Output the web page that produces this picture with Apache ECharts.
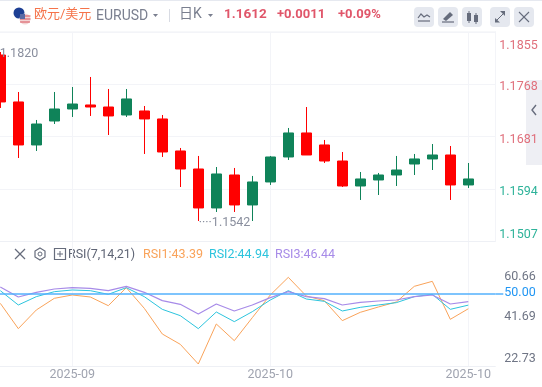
<!DOCTYPE html>
<html><head><meta charset="utf-8">
<style>html,body{margin:0;padding:0;background:#fff}#c{width:542px;height:387px}</style>
<script src="https://cdn.jsdelivr.net/npm/echarts@6/dist/echarts.min.js"></script></head>
<body><div id="c"></div><script>
const categories=['','','','','2025-09','','','','','','','','','','','2025-10','','','','','','','','','','','2025-10',''];
const opens =[1.17385,1.16669,1.17018,1.17268,1.17351,1.17301,1.17152,1.17435,1.17102,1.16552,1.16269,1.1562,1.16186,1.1567,1.16053,1.16469,1.16869,1.16502,1.16402,1.15986,1.16103,1.16169,1.16252,1.16436,1.16502,1.16003,1.16103];
const closes=[1.18167,1.17385,1.16669,1.17068,1.17268,1.17335,1.17301,1.17168,1.17235,1.17102,1.16569,1.16269,1.1562,1.16169,1.1567,1.16053,1.16469,1.16869,1.16669,1.16402,1.15986,1.16086,1.16169,1.16352,1.16436,1.16502,1.16003];
const lows  =[1.17285,1.16452,1.16569,1.17018,1.17135,1.17152,1.16835,1.17135,1.16519,1.16469,1.15969,1.15403,1.15553,1.15553,1.15403,1.16003,1.16419,1.16502,1.16369,1.15969,1.15753,1.15836,1.15986,1.16169,1.16252,1.15753,1.15953];
const highs =[1.18217,1.17551,1.17085,1.17551,1.17634,1.17801,1.17601,1.17601,1.17318,1.17168,1.16619,1.16486,1.16302,1.16286,1.16153,1.16486,1.16952,1.17301,1.16752,1.16552,1.16219,1.16203,1.16486,1.16519,1.16685,1.16652,1.16369];
const rsi1=[45.71,34.86,42.86,47.86,49.29,48.43,44.71,52.43,43.57,32.57,28.14,19.71,36.86,29.71,39.57,49.29,56.86,48.86,46.86,38.29,41.86,44.14,46.29,53.0,55.14,38.86,43.39];
const rsi2=[51.14,45.0,48.57,50.71,51.43,51.14,49.57,52.43,48.57,43.14,40.43,34.86,42.0,37.86,42.14,47.14,51.14,47.57,46.57,42.43,44.0,45.0,46.0,48.57,49.57,43.14,44.94];
const rsi3=[52.71,48.43,50.43,51.86,52.43,52.14,51.14,53.0,50.43,46.86,45.29,41.14,45.43,42.43,45.0,48.14,50.71,48.57,47.71,45.0,46.14,46.71,47.14,48.57,49.29,45.43,46.44];
const priceTicks=[1.1507,1.1594,1.1681,1.1768,1.1855];
const rsiTicks=[22.73,41.69,50,60.66];
const FONT='Roboto, "Noto Sans CJK SC", sans-serif';
const GRID='#f3f4f8',RED='#ff0000',GREEN='#0f8359',TXT='#6f7585';
const candles=opens.map((o,i)=>[o,closes[i],lows[i],highs[i]]);
const hasLabel=(i,v)=>v!=='';
const t=(x,y,text,fill,size,extra)=>({type:'text',x,y,silent:true,style:Object.assign({text,fill,font:(extra&&extra.weight||'normal')+' '+size+'px '+FONT,textVerticalAlign:'middle',textBaseline:'middle'},extra&&extra.style||{})});
const ln=(x1,y1,x2,y2,c,w)=>({type:'line',shape:{x1,y1,x2,y2},silent:true,style:{stroke:c,lineWidth:w||1,fill:null}});
const poly=(pts,c)=>({type:'polygon',shape:{points:pts},silent:true,style:{fill:c}});
const pl=(pts,c,w)=>({type:'polyline',shape:{points:pts},silent:true,style:{stroke:c,lineWidth:w||1,fill:null}});
const btn=x=>({type:'rect',shape:{x,y:7,width:20,height:20,r:4},silent:true,style:{fill:'#e5e8ef'}});
const IC='#666c7c';
const graphics=[
 {type:'rect',shape:{x:0,y:0,width:542,height:1},silent:true,style:{fill:'#e6e9f0'}},
 {type:'rect',shape:{x:0,y:31,width:496,height:1},silent:true,style:{fill:'#f7f8fa'}},
 {type:'circle',shape:{cx:19,cy:13,r:5.5},silent:true,style:{fill:'#1d3f94'}},
 {type:'circle',shape:{cx:25,cy:19,r:5.5},silent:true,style:{fill:'#f2d5d5'}},
 ln(20,16,30.5,16,'#d9505a',1),ln(20,19,30.5,19,'#d9505a',1),ln(20,22,30,22,'#d9505a',1),
 {type:'rect',shape:{x:20,y:14,width:5,height:5},silent:true,style:{fill:'#5a6aa5'}},
 t(34,14.5,'欧元/美元','#f5734a',13),
 t(96,16,'EURUSD','#7a7f8f',14),
 poly([[153,14],[158,14],[155.5,17]],'#7a7f8f'),
 ln(169.5,9,169.5,22,'#d8dbe3',1),
 t(179,14.5,'日K','#7a7f8f',14),
 poly([[208,14],[213,14],[210.5,17]],'#7a7f8f'),
 t(224,15,'1.1612','#e0566a',13.5,{weight:'bold'}),
 t(277,15,'+0.0011','#e0566a',13,{weight:'bold'}),
 t(338,15,'+0.09%','#e0566a',13,{weight:'bold'}),
 btn(414),btn(438),btn(462),btn(490),btn(514),
 pl([[418,18],[421,14],[424,17],[427,15],[430,17]],IC,1.2),ln(418,21,430,21,IC,1.2),
 poly([[443,19],[450,12],[453,15],[446,21]],IC),ln(442,22,454,22,IC,1.2),
 {type:'rect',shape:{x:467,y:13,width:4,height:8},silent:true,style:{fill:IC}},ln(469,11,469,23,IC,1),
 {type:'rect',shape:{x:474,y:15,width:4,height:7},silent:true,style:{fill:IC}},ln(476,13,476,24,IC,1),
 ln(495,22,505,12,IC,1),poly([[505,11],[505,16],[500,11]],IC),poly([[495,22.5],[495,18],[500,22.5]],IC),
 ln(519,12,529,22,IC,1.1),ln(529,12,519,22,IC,1.1),
 {type:'rect',shape:{x:526,y:80,width:16,height:85},silent:true,style:{fill:'#eeeff4'}},
 pl([[536,105],[532,110],[536,115]],IC,1.4),
 ln(15,249,25,259,IC,1.2),ln(25,249,15,259,IC,1.2),
 {type:'polygon',shape:{points:[[40,248],[45,251],[45,257],[40,260],[35,257],[35,251]]},silent:true,style:{stroke:IC,fill:null,lineWidth:1.2}},
 {type:'circle',shape:{cx:40,cy:254,r:2},silent:true,style:{stroke:IC,fill:null,lineWidth:1}},
 {type:'rect',shape:{x:54.5,y:248.5,width:11,height:11},silent:true,style:{stroke:IC,fill:null,lineWidth:1.2}},
 ln(57,254,63,254,IC,1),ln(60,251,60,257,IC,1),
 t(68,254.5,'RSI(7,14,21)','#5f6575',12.5),
 t(143,254.5,'RSI1:'+rsi1[rsi1.length-1].toFixed(2),'#f9a35a',12.5),
 t(209,254.5,'RSI2:'+rsi2[rsi2.length-1].toFixed(2),'#2cc4dd',12.5),
 t(275,254.5,'RSI3:'+rsi3[rsi3.length-1].toFixed(2),'#a78be8',12.5)
];
const line=(data,color,w)=>({type:'line',data,xAxisIndex:1,yAxisIndex:1,symbol:'none',silent:true,lineStyle:{color,width:w}});
const peak=(idx,val,text,dx,dy)=>({coord:[idx,val],symbol:'circle',symbolSize:1,itemStyle:{color:'rgba(0,0,0,0)'},label:{show:true,formatter:text,position:'right',color:'#8a8f9e',fontSize:12.5,fontFamily:FONT,distance:0,offset:[dx,dy]}});
const chart=echarts.init(document.getElementById('c'),null,{renderer:'canvas'});
const sharedX={type:'category',data:categories,boundaryGap:true,axisTick:{show:false},
 splitLine:{show:true,interval:hasLabel,alignWithLabel:true,lineStyle:{color:GRID,width:1}}};
const priceStyle=(c,top)=>({color:c,fontSize:12.5,padding:[top,0,0,0]});
chart.setOption({animation:false,backgroundColor:'#fff',
 grid:[{left:-8.7,top:32,width:504,height:209,outerBoundsMode:'none',containLabel:false},{left:-8.7,top:242,width:504,height:124.5,outerBoundsMode:'none',containLabel:false}],
 xAxis:[Object.assign({},sharedX,{gridIndex:0,axisLine:{show:true,lineStyle:{color:'#eef0f5'}},axisLabel:{show:false}}),
  Object.assign({},sharedX,{gridIndex:1,axisLine:{show:true,lineStyle:{color:'#eef0f5'}},
   axisLabel:{show:true,interval:hasLabel,color:'#a0a4b0',fontSize:12.5,fontFamily:FONT,margin:2,hideOverlap:false}})],
 yAxis:[{type:'value',gridIndex:0,position:'right',min:1.1507,max:1.1855,scale:true,
   axisLine:{show:true,lineStyle:{color:GRID}},axisTick:{show:false,customValues:priceTicks},
   splitLine:{show:true,lineStyle:{color:GRID}},
   axisLabel:{customValues:priceTicks,margin:4,fontSize:12.5,fontFamily:FONT,
     formatter:v=>{const k=v>=1.18?'a':v>=1.16?'b':v>=1.155?'c':'d';return `{${k}|${(+v).toFixed(4)}}`;},
     verticalAlignMinLabel:'bottom',verticalAlignMaxLabel:'top',
     rich:{a:priceStyle('#e0707c',8),b:priceStyle('#e0707c',6),c:priceStyle('#2fb39a',6),d:priceStyle('#2fb39a',0)}}},
  {type:'value',gridIndex:1,position:'right',min:18.64,max:72,
   axisLine:{show:false},axisTick:{show:true,customValues:[50],length:8,lineStyle:{color:'#53b1fd',width:1.5}},
   splitLine:{show:false},
   axisLabel:{customValues:rsiTicks,margin:9,fontSize:12.5,fontFamily:FONT,
     formatter:v=>{const s=(+v).toFixed(2);return v>60?`{a|${s}}`:v>45?`{b|${s}}`:v>30?`{c|${s}}`:`{d|${s}}`;},
     rich:{a:{color:TXT,fontSize:12.5,padding:[16,0,0,0]},b:{color:'#2196f3',fontSize:12.5},c:{color:TXT,fontSize:12.5,padding:[9,0,0,0]},d:{color:TXT,fontSize:12.5,padding:[4,0,0,0]}}}}],
 series:[{type:'candlestick',data:candles,barWidth:11,silent:true,clip:false,
   itemStyle:{color:RED,color0:GREEN,borderColor:RED,borderColor0:GREEN,borderWidth:1},
   markPoint:{silent:true,data:[peak(0,highs[0],'1.1820',-1,2),peak(11,lows[11],'····1.1542',0,2)]}},
  line(rsi1,'#f9a35a',1),line(rsi2,'#2cc4dd',1),line(rsi3,'#a78be8',1.2),
  {type:'line',data:[],xAxisIndex:1,yAxisIndex:1,silent:true,
   markLine:{silent:true,symbol:'none',label:{show:false},lineStyle:{color:'#53b1fd',width:1.5,type:'solid'},data:[{yAxis:50}]}}],
 graphic:graphics});
</script></body></html>
